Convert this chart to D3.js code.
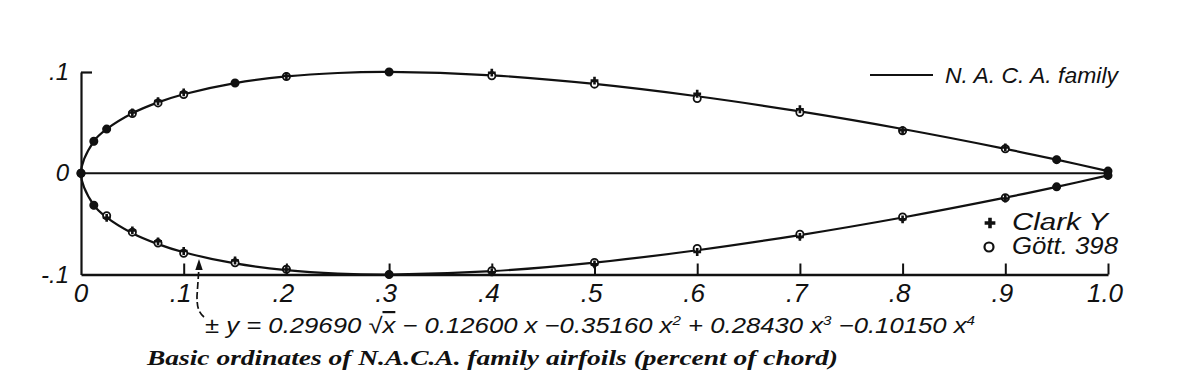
<!DOCTYPE html>
<html><head><meta charset="utf-8">
<script src="https://cdn.jsdelivr.net/npm/d3@7"></script>
<style>
html,body{margin:0;padding:0;background:#fff;}
svg{display:block;}
.lbl{font-family:"Liberation Sans",Arial,sans-serif;font-style:italic;fill:#111;}
.cap{font-family:"Liberation Serif","DejaVu Serif",serif;font-style:italic;font-weight:bold;fill:#111;}
</style></head>
<body>
<script>
// NACA family basic ordinates (fraction of chord)
const nacaX = [0, 0.0125, 0.025, 0.05, 0.075, 0.1, 0.15, 0.2, 0.25, 0.3, 0.4, 0.5, 0.6, 0.7, 0.8, 0.9, 0.95, 1.0];
const nacaY = [0, 0.03157, 0.04358, 0.05925, 0.07000, 0.07805, 0.08909, 0.09563, 0.09902, 0.10003, 0.09672, 0.08823, 0.07606, 0.06107, 0.04371, 0.02413, 0.01344, 0.00210];
// Comparison sections
const pointX = [0, 0.0125, 0.025, 0.05, 0.075, 0.1, 0.15, 0.2, 0.3, 0.4, 0.5, 0.6, 0.7, 0.8, 0.9, 0.95, 1.0];
const clarkUpper = [0, 0.0316, 0.0436, 0.0600, 0.0712, 0.0798, 0.0891, 0.0960, 0.1000, 0.0993, 0.0915, 0.0785, 0.0632, 0.0425, 0.0255, 0.0134, 0.0021];
const clarkLower = [0, -0.0316, -0.0440, -0.0565, -0.0672, -0.0768, -0.0862, -0.0950, -0.1000, -0.0978, -0.0900, -0.0778, -0.0628, -0.0455, -0.0250, -0.0134, -0.0021];
const gottUpper = [0, 0.0316, 0.0436, 0.0590, 0.0695, 0.0778, 0.0891, 0.0956, 0.1000, 0.0962, 0.0880, 0.0738, 0.0600, 0.0420, 0.0242, 0.0134, 0.0021];
const gottLower = [0, -0.0316, -0.0420, -0.0582, -0.0690, -0.0790, -0.0884, -0.0948, -0.1000, -0.0962, -0.0882, -0.0742, -0.0602, -0.0432, -0.0242, -0.0134, -0.0021];
const xTicks = [0, 0.1, 0.2, 0.3, 0.4, 0.5, 0.6, 0.7, 0.8, 0.9, 1.0];
const xTickLabels = ["0", ".1", ".2", ".3", ".4", ".5", ".6", ".7", ".8", ".9", "1.0"];
const yTicks = [0.1, 0, -0.1];
const yTickLabels = [".1", "0", "-.1"];
const legendLine = "N. A. C. A. family";
const legendPoints = ["Clark Y", "Gött. 398"];
const caption = "Basic ordinates of N.A.C.A. family airfoils (percent of chord)";

const W = 1187, H = 385;
const svg = d3.select("body").append("svg").attr("width", W).attr("height", H);
const x = d3.scaleLinear().domain([0, 1]).range([81, 1108]);
const y = d3.scaleLinear().domain([-0.1, 0.1]).range([274.5, 72]);
const ink = "#111";

// axes
const xAxis = d3.axisBottom(x).tickValues(xTicks.slice(1)).tickSizeInner(-11).tickSizeOuter(0).tickFormat("");
const gx = svg.append("g").attr("transform", `translate(0,${y(-0.1)})`).call(xAxis);
gx.selectAll(".domain").attr("stroke", ink).attr("stroke-width", 2.4);
gx.selectAll(".tick line").attr("stroke", ink).attr("stroke-width", 2);
const yAxis = d3.axisLeft(y).tickValues([0.1]).tickSizeInner(-11).tickSizeOuter(0).tickFormat("");
const gy = svg.append("g").attr("transform", `translate(${x(0)},0)`).call(yAxis);
gy.selectAll(".domain").attr("stroke", ink).attr("stroke-width", 2.2);
gy.selectAll(".tick line").attr("stroke", ink).attr("stroke-width", 2.2);

// zero line (chord)
svg.append("line").attr("x1", x(0)).attr("x2", x(1)).attr("y1", y(0)).attr("y2", y(0))
  .attr("stroke", ink).attr("stroke-width", 2);

// tick labels
svg.selectAll(".xl").data(xTicks).enter().append("text").attr("class", "lbl")
  .attr("x", (d, i) => x(d) - (i === 0 ? 0 : 3)).attr("y", 302).attr("text-anchor", "middle")
  .attr("font-size", 26).text((d, i) => xTickLabels[i]);
svg.selectAll(".yl").data(yTicks).enter().append("text").attr("class", "lbl")
  .attr("x", 69).attr("y", d => y(d) + 8).attr("text-anchor", "end")
  .attr("font-size", 24).text((d, i) => yTickLabels[i]);

// NACA contour
const contour = [];
for (let i = nacaX.length - 1; i >= 0; i--) contour.push([nacaX[i], -nacaY[i]]);
for (let i = 1; i < nacaX.length; i++) contour.push([nacaX[i], nacaY[i]]);
const line = d3.line().x(d => x(d[0])).y(d => y(d[1])).curve(d3.curveCatmullRom.alpha(0.5));
svg.append("path").attr("d", line(contour)).attr("fill", "none").attr("stroke", ink).attr("stroke-width", 2.2);

// Gött 398 circles (filled in where a Clark Y mark falls on the same spot, as in the print)
const gott = pointX.map((v, i) => [v, gottUpper[i], clarkUpper[i]])
  .concat(pointX.map((v, i) => [v, gottLower[i], clarkLower[i]]));
svg.append("g").selectAll("circle").data(gott).enter().append("circle")
  .attr("cx", d => x(d[0])).attr("cy", d => y(d[1])).attr("r", 3.6)
  .attr("fill", d => Math.abs(d[1] - d[2]) < 1e-6 ? ink : "#fff").attr("stroke", ink).attr("stroke-width", 1.8);
// Clark Y plus marks
const clark = pointX.map((v, i) => [v, clarkUpper[i]]).concat(pointX.map((v, i) => [v, clarkLower[i]]));
const plus = d3.symbol().type(d3.symbolCross).size(34);
svg.append("g").selectAll("path").data(clark).enter().append("path")
  .attr("transform", d => `translate(${x(d[0])},${y(d[1])})`)
  .attr("d", plus).attr("fill", ink);

// legend
svg.append("line").attr("x1", 870).attr("x2", 933).attr("y1", 75).attr("y2", 75).attr("stroke", ink).attr("stroke-width", 2.2);
svg.append("text").attr("class", "lbl").attr("x", 945).attr("y", 83).attr("font-size", 22)
  .attr("textLength", 173).attr("lengthAdjust", "spacingAndGlyphs").text(legendLine);
svg.append("path").attr("transform", "translate(990,223)").attr("d", d3.symbol().type(d3.symbolCross).size(64)).attr("fill", ink);
svg.append("circle").attr("cx", 989).attr("cy", 247).attr("r", 4.5).attr("fill", "none").attr("stroke", ink).attr("stroke-width", 2.2);
svg.selectAll(".lp").data(legendPoints).enter().append("text").attr("class", "lbl")
  .attr("x", 1012).attr("y", (d, i) => 230 + i * 24).attr("font-size", 23)
  .attr("textLength", (d, i) => i === 0 ? 96 : 106).attr("lengthAdjust", "spacingAndGlyphs").text(d => d);

// formula
const f = svg.append("text").attr("class", "lbl").attr("x", 205).attr("y", 333).attr("font-size", 22)
  .attr("textLength", 770).attr("lengthAdjust", "spacingAndGlyphs");
f.append("tspan").text("± y = 0.29690 √");
f.append("tspan").style("text-decoration", "overline").text("x");
f.append("tspan").text(" − 0.12600 x −0.35160 x");
f.append("tspan").attr("dy", -8).attr("font-size", 13).text("2");
f.append("tspan").attr("dy", 8).text(" + 0.28430 x");
f.append("tspan").attr("dy", -8).attr("font-size", 13).text("3");
f.append("tspan").attr("dy", 8).text(" −0.10150 x");
f.append("tspan").attr("dy", -8).attr("font-size", 13).text("4");

// leader arrow
svg.append("path").attr("d", `M204,317 C198,312 197,306 197,296 L199,267`)
  .attr("fill", "none").attr("stroke", ink).attr("stroke-width", 1.7).attr("stroke-dasharray", "7,3");
svg.append("path").attr("d", "M199,259 L195.3,270 L202.7,270 Z").attr("fill", ink);

// caption
svg.append("text").attr("class", "cap").attr("x", 147).attr("y", 365).attr("font-size", 22)
  .attr("textLength", 691).attr("lengthAdjust", "spacingAndGlyphs").text(caption);
</script>
</body></html>
